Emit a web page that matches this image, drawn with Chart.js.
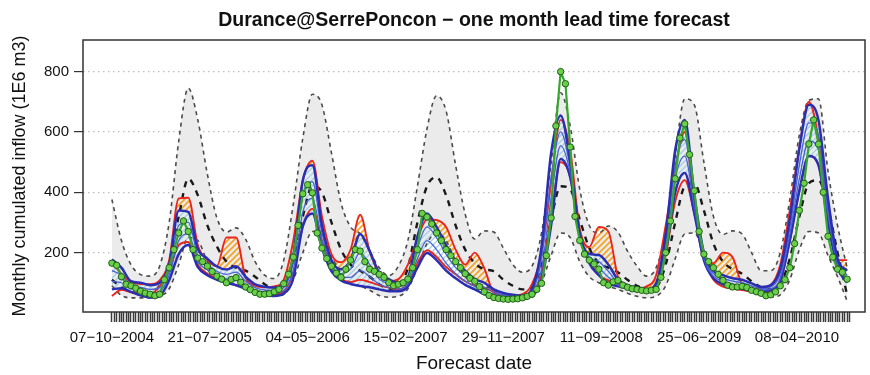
<!DOCTYPE html>
<html lang="en">
<head>
<meta charset="UTF-8">
<title>Durance@SerrePoncon - one month lead time forecast</title>
<script src="https://cdn.jsdelivr.net/npm/chart.js"></script>
<style>
  html, body { margin: 0; padding: 0; background: #fff; }
  #wrap { width: 870px; height: 375px; }
</style>
</head>
<body>
<div id="wrap"><canvas id="fcChart"></canvas></div>
<script>
// Forecast dates are weekly, week 0 = 07-10-2004; a date label every 41 weeks
const dateLabels = ['07−10−2004', '21−07−2005', '04−05−2006', '15−02−2007',
                    '29−11−2007', '11−09−2008', '25−06−2009', '08−04−2010'];
const labelStep = 41;
const lastWeek = 309;
const yTicks = [200, 400, 600, 800];

// forecast / climatology curves, one value every 4 weeks (weeks 0..308)
const fcStep = 4;
const climMax = [376,240,160,127,122,155,300,570,745,640, 460,315,268,282,245,170,125,114,175,360,
                 580,725,690,530,365,285,262,205,150,124, 155,240,420,610,720,670,490,328,245,272,
                 268,215,160,135,155,265,500,730,620,410, 290,265,288,268,205,155,122,150,270,520,
                 710,690,500,320,260,272,262,200,140,140, 200,376,590,705,710,470,290,150];
const climMed = [110,85,70,65,68,90,170,320,445,390, 290,220,170,150,140,120,95,80,90,170,
                 320,420,400,300,210,160,140,120,95,80, 85,150,300,420,450,390,290,210,165,145,
                 138,110,90,78,85,160,310,420,410,310, 215,165,150,135,110,90,78,85,160,300,
                 420,430,340,230,170,145,130,105,85,78, 95,180,320,430,440,350,200,60];
const climMin = [90,58,50,50,50,55,80,160,250,240, 170,120,100,90,80,68,58,55,62,110,
                 200,270,260,190,130,100,90,75,58,52, 55,80,150,230,265,240,170,120,100,90,
                 75,58,48,45,52,100,190,265,250,170, 120,100,88,78,65,55,50,55,90,180,
                 262,265,200,140,105,92,80,68,58,52, 60,110,210,270,265,190,120,40];
const redHi = [165,130,102,96,95,108,175,380,382,225, 175,155,250,250,118,90,85,88,110,240,
               440,505,320,195,168,210,326,205,130,105, 112,160,245,310,308,285,210,160,200,148,
               67,58,57,62,95,200,430,640,540,280, 218,285,270,120,84,78,88,125,290,480,
               600,350,180,165,200,185,95,80,82,92, 160,340,550,700,580,360,175,175];
const redLo = [56,77,68,64,62,88,140,225,235,160, 130,115,100,92,84,74,67,62,72,135,
               288,345,240,150,112,102,110,102,92,84, 79,95,165,208,186,152,128,105,90,82,
               70,55,51,51,65,130,320,500,450,250, 175,125,108,95,80,75,73,98,190,370,
               440,330,185,110,87,80,76,70,67,72, 108,240,405,520,490,310,160,110];
const blueHi = [177,150,105,100,92,100,160,340,335,212, 180,154,144,155,120,95,87,84,95,190,
                440,490,290,175,145,175,262,205,133,112, 100,118,254,330,285,225,172,140,112,100,
                78,66,60,57,80,220,530,655,500,260, 196,192,160,110,92,84,78,98,260,540,
                640,390,200,140,125,115,110,98,86,92, 145,310,545,690,640,380,180,140];
const blueUpper = [140,125,90,85,78,84,140,290,300,190, 162,138,128,135,105,84,76,74,84,165,
                   390,435,265,162,130,145,200,160,112,96, 88,106,215,285,250,195,150,122,100,86,
                   70,60,56,54,70,180,450,600,480,260, 185,170,138,100,88,80,77,93,235,490,
                   575,370,190,130,115,105,100,90,80,86, 130,280,490,630,590,350,170,125];
const blueLower = [105,100,80,72,65,70,125,240,262,170, 142,124,113,114,92,76,68,65,74,140,
                   335,380,240,150,118,118,140,120,95,84, 80,96,180,240,210,165,130,106,88,73,
                   62,56,53,52,63,145,380,555,465,260, 175,150,118,94,85,78,76,90,215,445,
                   520,350,182,122,105,96,90,82,76,80, 115,260,445,570,540,325,160,112];
const blueLo = [78,82,70,58,51,56,108,195,225,152, 125,110,100,92,80,68,60,56,64,115,
                288,330,215,138,108,96,89,85,78,72, 72,88,150,199,175,140,115,93,78,62,
                55,51,51,51,58,110,290,510,450,260, 165,125,98,88,82,75,76,88,200,400,
                464,330,175,115,95,87,80,75,73,76, 105,240,405,520,490,300,150,100];

// observed inflow, one value every 2 weeks (weeks 0..308)
const obsStep = 2;
const observed = [165,158,120,95,90,82,72,66,62,57, 62,110,150,210,265,305,270,210,182,170,
                  155,137,122,112,100,111,117,102,86,77, 68,62,62,64,70,78,97,128,185,290,
                  395,425,398,265,215,180,155,132,118,145, 175,210,205,170,145,138,128,118,100,90,
                  95,100,112,150,210,330,318,295,265,240, 210,190,170,150,130,115,105,87,70,58,
                  51,48,46,45,46,47,50,55,62,78, 98,190,315,620,800,760,550,320,240,195,
                  175,162,145,100,92,103,108,92,85,80, 78,75,73,75,78,118,200,305,445,580,
                  627,525,405,270,195,170,150,128,108,92, 86,86,88,84,75,70,65,57,60,70,
                  90,110,150,230,340,430,560,640,560,400, 254,185,145,135,112];

const toPoints = (values, step) => values.map((v, i) => ({ x: i * step, y: v }));

// diagonal hatching used between the forecast envelopes
function hatch(color, gap, width) {
  const c = document.createElement('canvas');
  c.width = gap; c.height = gap;
  const g = c.getContext('2d');
  g.strokeStyle = color;
  g.lineWidth = width;
  g.beginPath();
  g.moveTo(0, gap); g.lineTo(gap, 0);
  g.moveTo(-1, 1); g.lineTo(1, -1);
  g.moveTo(gap - 1, gap + 1); g.lineTo(gap + 1, gap - 1);
  g.stroke();
  return g.createPattern(c, 'repeat');
}
const orangeHatch = hatch('#f5a21e', 6, 1.6);
const blueHatch = hatch('#a3d2e8', 6, 1.4);

// plot frame
const framePlugin = {
  id: 'frame',
  afterDatasetsDraw(chart) {
    const { ctx, chartArea: a } = chart;
    ctx.save();
    ctx.strokeStyle = '#333';
    ctx.lineWidth = 1.5;
    ctx.strokeRect(a.left, a.top, a.right - a.left, a.bottom - a.top);
    ctx.restore();
  }
};

Chart.defaults.font.family = "'Liberation Sans', Arial, sans-serif";
Chart.defaults.color = '#111';

const solid = (color, width) => ({
  borderColor: color, borderWidth: width, pointRadius: 0,
  cubicInterpolationMode: 'monotone', fill: false
});
const dashed = (color, width, dash) => ({
  borderColor: color, borderWidth: width, borderDash: dash, pointRadius: 0,
  cubicInterpolationMode: 'monotone', fill: false
});

const weeks = [];
for (let w = 0; w <= lastWeek; w++) weeks.push(w);

new Chart(document.getElementById('fcChart'), {
  type: 'line',
  data: {
    datasets: [
      { label: 'observed', data: toPoints(observed, obsStep), borderColor: '#35a82c', borderWidth: 2.2,
        pointRadius: 3.2, pointBackgroundColor: '#6ad04a', pointBorderColor: '#1e5c18', pointBorderWidth: 1,
        tension: 0, fill: false },
      { label: 'fc max', data: toPoints(blueHi, fcStep), ...solid('#2a2fb2', 2.5),
        fill: { target: 4, above: blueHatch, below: blueHatch } },
      { label: 'fc upper', data: toPoints(blueUpper, fcStep), ...solid('#4a62d4', 1.3) },
      { label: 'fc lower', data: toPoints(blueLower, fcStep), ...solid('#4a62d4', 1.3) },
      { label: 'fc min', data: toPoints(blueLo, fcStep), ...solid('#2a2fb2', 2.5) },
      { label: 'raw max', data: toPoints(redHi, fcStep), ...solid('#e8261f', 1.9),
        fill: { target: 1, above: orangeHatch, below: 'rgba(0,0,0,0)' } },
      { label: 'raw min', data: toPoints(redLo, fcStep), ...solid('#e8261f', 1.9) },
      { label: 'clim median', data: toPoints(climMed, fcStep), ...dashed('#1a1a1a', 2.4, [6, 6]) },
      { label: 'clim max', data: toPoints(climMax, fcStep), ...dashed('#4a4a4a', 1.6, [4, 4]),
        fill: { target: 9, above: '#ecebeb', below: '#ecebeb' } },
      { label: 'clim min', data: toPoints(climMin, fcStep), ...dashed('#4a4a4a', 1.6, [4, 4]) }
    ]
  },
  options: {
    responsive: true,
    maintainAspectRatio: false,
    animation: false,
    events: [],
    layout: { padding: { right: 3 } },
    plugins: {
      legend: { display: false },
      tooltip: { enabled: false },
      filler: { drawTime: 'beforeDatasetsDraw' },
      title: {
        display: true,
        fullSize: false,
        text: 'Durance@SerrePoncon − one month lead time forecast',
        font: { size: 19.5, weight: 'bold' },
        padding: { top: 9, bottom: 7.6 },
        color: '#111'
      }
    },
    scales: {
      x: {
        type: 'linear',
        min: -12.1,
        max: 315.5,
        afterBuildTicks: s => { s.ticks = weeks.map(w => ({ value: w })); },
        afterFit: s => { s.height = 63; },
        grid: { drawOnChartArea: false, drawTicks: true, tickLength: 10,
                tickColor: '#3a3a3a', tickWidth: 1.5 },
        border: { display: false },
        ticks: {
          autoSkip: false, maxRotation: 0, padding: 7,
          font: { size: 15 },
          callback: v => (v % labelStep === 0 ? dateLabels[v / labelStep] : '')
        },
        title: { display: true, text: 'Forecast date', font: { size: 19 },
                 padding: { top: 0, bottom: 0 } }
      },
      y: {
        min: 3,
        max: 905,
        afterBuildTicks: s => { s.ticks = yTicks.map(v => ({ value: v })); },
        afterFit: s => { s.width = 83; },
        grid: { color: '#bdbdbd', lineWidth: 1.2, tickColor: '#333', tickLength: 9,
                tickWidth: 1.2, tickBorderDash: [] },
        border: { display: false, dash: [1.5, 3.5] },
        ticks: { padding: 5, font: { size: 15 } },
        title: { display: true, text: 'Monthly cumulated inflow (1E6 m3)', font: { size: 18 },
                 padding: { top: 9, bottom: 0 } }
      }
    }
  },
  plugins: [framePlugin]
});
</script>
</body>
</html>
